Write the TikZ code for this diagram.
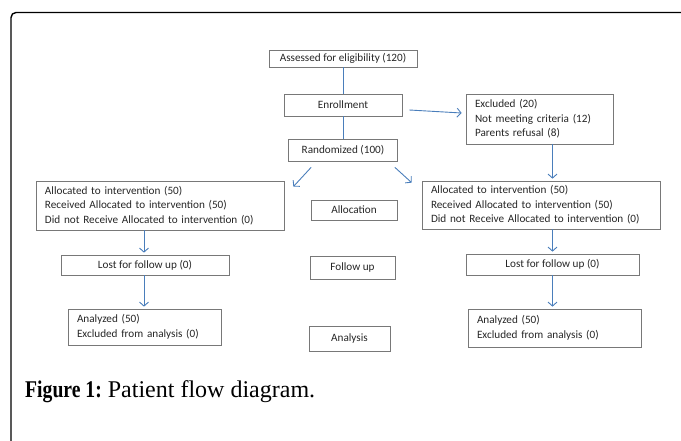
\documentclass[tikz,border=0pt]{standalone}
\usepackage{fontspec}
\setmainfont{Carlito}
\newfontfamily\captionfont{Liberation Serif}
\usetikzlibrary{arrows.meta}
\definecolor{flowblue}{RGB}{74,126,187}
\definecolor{boxgray}{RGB}{120,120,120}

\begin{document}
\begin{tikzpicture}[x=1pt, y=-1pt,
    box/.style={draw=boxgray, line width=0.7pt, inner sep=0pt, text=black!85,
        font=\fontsize{11.2}{14.5}\selectfont},
    listbox/.style={box, align=left, inner xsep=9pt},
    link/.style={flowblue, line width=0.9pt},
    arr/.style={link, -{Straight Barb[length=4pt,width=9pt]}}]
    \useasboundingbox (0,0) rectangle (681,441);

    % Frame
    \draw[line width=1.4pt, rounded corners=5pt] (11,441) -- (11,12.5) -- (681,12.5);

    % Enrollment
    \node[box, minimum width=148pt, minimum height=17pt] (assess) at (343,58.5) {Assessed for eligibility (120)};
    \node[box, minimum width=118pt, minimum height=22pt] (enroll) at (343,105) {Enrollment};
    \node[listbox, text width=129pt, minimum height=50pt] (excl) at (539.5,119)
        {Excluded (20)\\Not meeting criteria (12)\\Parents refusal (8)};
    \node[box, minimum width=109pt, minimum height=22pt] (rand) at (343,150) {Randomized (100)};

    % Allocation
    \node[listbox, text width=230pt, minimum height=49pt] (lalloc) at (160,205.5)
        {Allocated to intervention (50)\\Received Allocated to intervention (50)\\Did not Receive Allocated to intervention (0)};
    \node[box, minimum width=86pt, minimum height=20pt] (alloc) at (354,210) {Allocation};
    \node[listbox, text width=220pt, minimum height=48pt] (ralloc) at (541,205)
        {Allocated to intervention (50)\\Received Allocated to intervention (50)\\Did not Receive Allocated to intervention (0)};

    % Follow up
    \node[box, minimum width=168pt, minimum height=20pt] (llost) at (145,265) {Lost for follow up (0)};
    \node[box, minimum width=85pt, minimum height=23pt] (follow) at (352.5,267.5) {Follow up};
    \node[box, minimum width=173pt, minimum height=21pt] (rlost) at (552.5,264.5) {Lost for follow up (0)};

    % Analysis
    \node[listbox, text width=135pt, minimum height=36pt] (lanal) at (144.5,327)
        {Analyzed (50)\\Excluded from analysis (0)};
    \node[box, minimum width=81pt, minimum height=25pt] (analysis) at (349.5,339) {Analysis};
    \node[listbox, text width=155pt, minimum height=38pt] (ranal) at (554.5,328)
        {Analyzed (50)\\Excluded from analysis (0)};

    % Columns of the arrows
    \coordinate (lcol) at (144,0);
    \coordinate (rcol) at (552.5,0);

    % Connectors
    \draw[link] (assess) -- (enroll);
    \draw[link] (enroll) -- (rand);
    \draw[arr] ([xshift=7pt,yshift=-5pt]enroll.east) -- ([xshift=-4pt,yshift=6pt]excl.west);
    \draw[arr] ([xshift=23pt,yshift=-6pt]rand.south west) -- ([xshift=9pt,yshift=-6pt]lalloc.north east);
    \draw[arr] ([xshift=-3pt,yshift=-6pt]rand.south east) -- ([xshift=-10pt,yshift=-2pt]ralloc.north west);
    \draw[arr, shorten >=2pt] (excl.south -| rcol) -- (ralloc.north -| rcol);
    \draw[arr, shorten >=2pt] (lalloc.south -| lcol) -- (llost.north -| lcol);
    \draw[arr, shorten >=2pt] (ralloc.south -| rcol) -- (rlost.north -| rcol);
    \draw[arr, shorten >=2pt] (llost.south -| lcol) -- (lanal.north -| lcol);
    \draw[arr, shorten >=2pt] (rlost.south -| rcol) -- (ranal.north -| rcol);

    % Caption
    \node[anchor=base west, inner sep=0pt, font=\captionfont\fontsize{24}{28}\selectfont] (caption) at (25,397)
        {\scalebox{0.82}[1]{\textbf{Figure 1:}} Patient flow diagram.};
\end{tikzpicture}
\end{document}
